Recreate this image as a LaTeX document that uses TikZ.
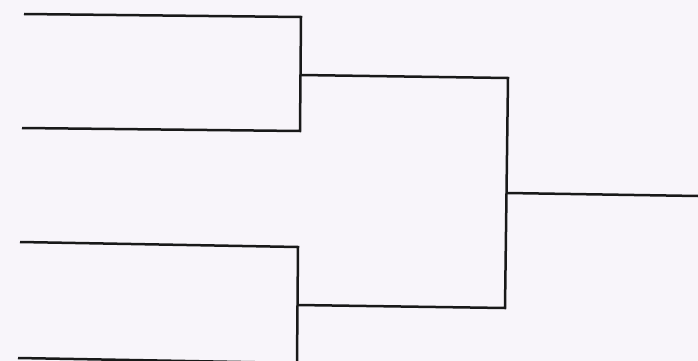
\documentclass[tikz,border=0pt]{standalone}
\begin{document}
\begin{tikzpicture}[x=1pt,y=-1pt,
  bracket/.style={draw=black!90, line width=2.5pt, line join=miter}]
\definecolor{paper}{HTML}{F8F5FA}
\fill[paper] (0,0) rectangle (698,361);
\useasboundingbox (0,0) rectangle (698,361);
% first round, upper pair
\coordinate (a1) at (24,14);
\coordinate (a1r) at (301,17);
\coordinate (a2) at (22,128);
\coordinate (a2r) at (300,131);
% first round, lower pair
\coordinate (b1) at (20,242);
\coordinate (b1r) at (298,247);
\coordinate (b2) at (18,358);
\coordinate (b2r) at (297,363);
% second round
\coordinate (m1) at (300.5,75);
\coordinate (m1r) at (508,78);
\coordinate (m2) at (297.5,305);
\coordinate (m2r) at (505,308);
% final
\coordinate (f) at (507,193);
\coordinate (fr) at (698,196);
\draw[bracket] (a1) -- (a1r) -- (a2r) -- (a2);
\draw[bracket] (b1) -- (b1r) -- (b2r) -- (b2);
\draw[bracket] (m1) -- (m1r) -- (m2r) -- (m2);
\draw[bracket] (f) -- (fr);
\end{tikzpicture}
\end{document}
